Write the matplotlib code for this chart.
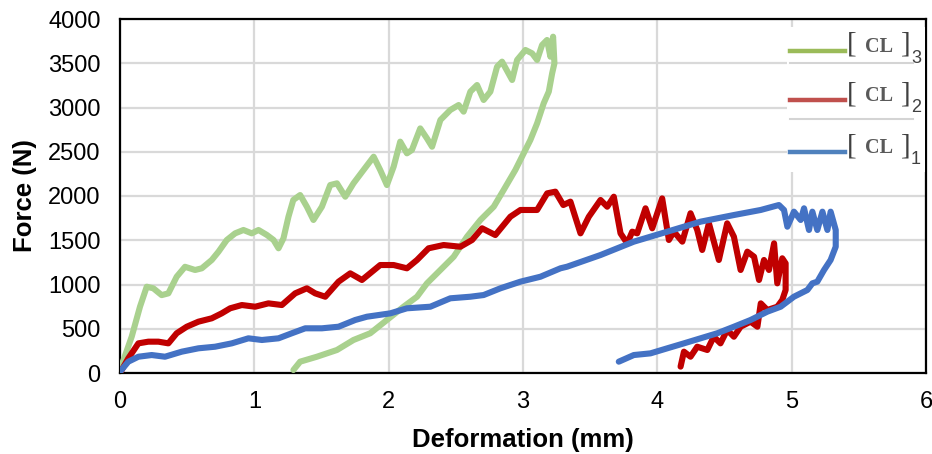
import matplotlib.pyplot as plt
from matplotlib.lines import Line2D
from matplotlib.patches import Rectangle

# [CL]3 : loading + unloading branch
cl3_x = [0, 0.013, 0.087, 0.149, 0.199, 0.248, 0.31, 0.36, 0.422, 0.484, 0.559, 0.609, 0.683, 0.733,
         0.795, 0.857, 0.919, 0.981, 1.031, 1.093, 1.143, 1.18, 1.217, 1.254, 1.29, 1.341, 1.391,
         1.44, 1.503, 1.565, 1.615, 1.677, 1.738, 1.813, 1.888, 1.937, 1.987, 2.037, 2.086, 2.136,
         2.173, 2.235, 2.285, 2.323, 2.385, 2.459, 2.521, 2.558, 2.608, 2.658, 2.707, 2.757, 2.807,
         2.844, 2.919, 2.956, 3.018, 3.068, 3.105, 3.142, 3.179, 3.204, 3.224, 3.234,
         3.217, 3.192, 3.154, 3.105, 3.055, 3.005, 2.943, 2.856, 2.782, 2.683, 2.583, 2.484, 2.385,
         2.285, 2.211, 2.111, 1.987, 1.863, 1.738, 1.615, 1.466, 1.341, 1.291]
cl3_y = [0, 90, 410, 750, 975, 957, 880, 900, 1088, 1200, 1164, 1183, 1277, 1370,
         1503, 1578, 1616, 1578, 1616, 1560, 1503, 1409, 1522, 1766, 1955, 2011, 1879,
         1729, 1879, 2124, 2143, 1992, 2143, 2294, 2444, 2294, 2124, 2331, 2614, 2482,
         2520, 2764, 2651, 2557, 2859, 2972, 3028, 2953, 3179, 3254, 3085, 3179, 3461,
         3518, 3311, 3537, 3650, 3612, 3537, 3706, 3763, 3574, 3800, 3499,
         3386, 3179, 3047, 2821, 2633, 2482, 2294, 2068, 1879, 1729, 1540, 1314, 1164,
         1013, 862, 749, 599, 449, 373, 260, 184, 128, 34]

# [CL]2
cl2_x = [0, 0.062, 0.137, 0.211, 0.286, 0.36, 0.422, 0.497, 0.584, 0.683, 0.757, 0.82, 0.907,
         1.006, 1.105, 1.205, 1.304, 1.391, 1.453, 1.528, 1.627, 1.714, 1.801, 1.937, 2.037,
         2.136, 2.211, 2.297, 2.409, 2.534, 2.621, 2.695, 2.794, 2.906, 2.981, 3.105, 3.18,
         3.241, 3.30, 3.353, 3.428, 3.49, 3.577, 3.627, 3.676, 3.726, 3.776, 3.813, 3.85, 3.912,
         3.962, 4.036, 4.086, 4.123, 4.186, 4.247, 4.297, 4.334, 4.384, 4.458, 4.52, 4.57,
         4.62, 4.67, 4.72, 4.757, 4.794, 4.831, 4.869, 4.893, 4.93, 4.955, 4.955, 4.93, 4.893,
         4.819, 4.77, 4.745, 4.694, 4.62, 4.57, 4.52, 4.47, 4.42, 4.372, 4.297, 4.247, 4.198, 4.173]
cl2_y = [0, 166, 335, 354, 354, 335, 449, 523, 580, 618, 674, 731, 768,
         749, 787, 768, 900, 957, 900, 862, 1032, 1126, 1051, 1220, 1220,
         1183, 1277, 1409, 1446, 1427, 1503, 1635, 1559, 1766, 1842, 1842, 2030,
         2049, 1898, 1936, 1578, 1766, 1955, 1879, 1992, 1578, 1465, 1597, 1578, 1861,
         1635, 1973, 1503, 1597, 1484, 1805, 1616, 1390, 1691, 1277, 1691, 1540,
         1164, 1371, 1314, 1051, 1277, 1164, 1465, 1013, 1296, 1239, 938, 825, 749,
         712, 787, 523, 580, 523, 410, 486, 335, 410, 260, 297, 184, 241, 72]

# [CL]1
cl1_x = [0, 0.062, 0.137, 0.236, 0.335, 0.46, 0.584, 0.708, 0.832, 0.956, 1.056, 1.18, 1.279,
         1.379, 1.503, 1.627, 1.751, 1.838, 2.012, 2.136, 2.31, 2.459, 2.608, 2.707, 2.832,
         2.981, 3.13, 3.279, 3.328, 3.577, 3.825, 4.074, 4.322, 4.57, 4.769, 4.905, 4.943,
         4.968, 5.017, 5.067, 5.092, 5.129, 5.154, 5.191, 5.229, 5.266, 5.29, 5.328, 5.328,
         5.29, 5.241, 5.191, 5.154, 5.117, 5.017, 4.918, 4.819, 4.694, 4.57, 4.446, 4.322,
         4.198, 4.074, 3.949, 3.825, 3.713]
cl1_y = [15, 128, 184, 203, 184, 241, 279, 297, 335, 392, 373, 392, 449,
         505, 505, 523, 599, 636, 674, 731, 749, 844, 862, 881, 957,
         1032, 1088, 1183, 1201, 1333, 1484, 1597, 1710, 1785, 1842, 1898, 1842,
         1653, 1823, 1729, 1861, 1616, 1823, 1616, 1823, 1616, 1823, 1616, 1427,
         1277, 1164, 1032, 1013, 938, 862, 749, 693, 599, 523, 449, 392,
         335, 279, 222, 203, 128]

legend_name = 'CL'
legend_subs = ['3', '2', '1']
legend_colors = ['#9bbb59', '#c0504d', '#4f81bd']

plt.rcParams['font.family'] = ['Liberation Sans', 'DejaVu Sans']

W, H = 932, 454
fig = plt.figure(figsize=(W / 100, H / 100), dpi=100)
ax = fig.add_axes([120 / W, 1 - 373 / H, 806 / W, 354 / H])

ax.plot(cl3_x, cl3_y, color='#a9d18e', lw=4.4, solid_capstyle='round', solid_joinstyle='round', zorder=3)
ax.plot(cl2_x, cl2_y, color='#c00000', lw=4.4, solid_capstyle='round', solid_joinstyle='round', zorder=4)
ax.plot(cl1_x, cl1_y, color='#4472c4', lw=4.4, solid_capstyle='round', solid_joinstyle='round', zorder=5)

ax.set_xlim(0, 6)
ax.set_ylim(0, 4000)
ax.set_xticks(range(0, 7))
ax.set_yticks(range(0, 4001, 500))
ax.grid(True, color='#d9d9d9', lw=1.6)
ax.set_axisbelow(True)
ax.tick_params(length=0, labelsize=17)
ax.tick_params(axis='x', pad=13)
ax.tick_params(axis='y', pad=14)
for s in ax.spines.values():
    s.set_linewidth(1.6)
    s.set_color('black')

ax.set_xlabel('Deformation (mm)', fontsize=18.5, fontweight='bold', labelpad=11)
ax.set_ylabel('Force (N)', fontsize=18.5, fontweight='bold', labelpad=8)


# legend drawn by hand (tall serif brackets, subscripts), in figure pixels
def fx(px):
    return px / W


def fy(py):
    return 1 - py / H


fig.add_artist(Rectangle((fx(787), fy(172)), fx(924.5) - fx(787), fy(27) - fy(172),
                         transform=fig.transFigure, facecolor='white', edgecolor='none', zorder=5))
row_y = [51, 100, 152]
for ly, sub, col in zip(row_y, legend_subs, legend_colors):
    fig.add_artist(Line2D([fx(790), fx(845)], [fy(ly)] * 2, color=col, lw=3.2, zorder=6))
    fig.text(fx(846.5), fy(ly + 1), '[', fontsize=21, family='Liberation Serif', color='#404040',
             va='baseline', ha='left', zorder=7)
    fig.text(fx(865), fy(ly + 1), legend_name, fontsize=14.5, family='Liberation Serif',
             fontweight='bold', color='#595959', va='baseline', ha='left', zorder=7)
    fig.text(fx(901), fy(ly + 1), ']', fontsize=21, family='Liberation Serif', color='#404040',
             va='baseline', ha='left', zorder=7)
    fig.text(fx(911), fy(ly + 12), sub, fontsize=13, color='#404040',
             va='baseline', ha='left', zorder=7)

# thin separators between legend entries
for yy in [63, 119]:
    fig.add_artist(Line2D([fx(790), fx(913)], [fy(yy)] * 2, color='#d4d4d4', lw=1.5, zorder=6))

fig.savefig('out.png', dpi=100)
